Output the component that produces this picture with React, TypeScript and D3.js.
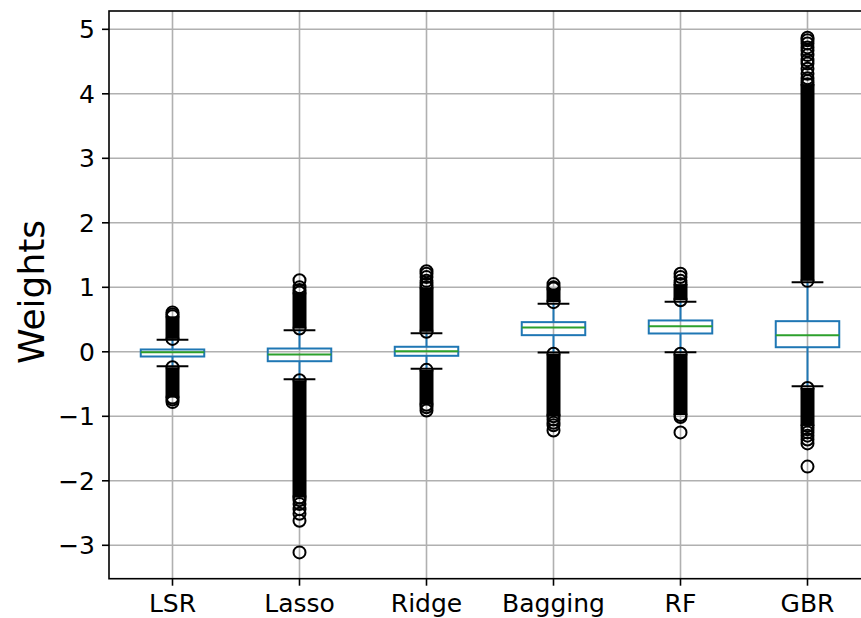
import React from 'react'
import * as d3 from 'd3'

// models on the x axis
const models = ['LSR', 'Lasso', 'Ridge', 'Bagging', 'RF', 'GBR']

// box stats: [lowWhisker, q1, median, q3, highWhisker]
const lsrBox = [-0.223, -0.073, -0.006, 0.036, 0.186]
const lassoBox = [-0.425, -0.146, -0.042, 0.051, 0.335]
const ridgeBox = [-0.264, -0.062, 0.009, 0.078, 0.289]
const baggingBox = [-0.01, 0.258, 0.377, 0.46, 0.745]
const rfBox = [-0.006, 0.284, 0.397, 0.486, 0.776]
const gbrBox = [-0.534, 0.071, 0.258, 0.475, 1.08]

// stretches where the outlier circles overlap into a solid column: [from, to]
const lsrDense = [[0.2, 0.55], [-0.24, -0.71]]
const lassoDense = [[0.36, 0.92], [-0.44, -2.26]]
const ridgeDense = [[0.31, 1.0], [-0.28, -0.82]]
const baggingDense = [[0.77, 0.98], [-0.03, -1.0]]
const rfDense = [[0.8, 1.05], [-0.03, -0.98]]
const gbrDense = [[1.1, 4.15], [-0.56, -1.15]]

// single outliers that can still be told apart
const lsrFliers = [0.2, 0.55, 0.58, 0.61, -0.24, -0.71, -0.74, -0.78]
const lassoFliers = [0.36, 0.92, 0.96, 1.0, 1.11, -0.44, -2.26, -2.3, -2.36, -2.44, -2.51, -2.62, -3.11]
const ridgeFliers = [0.31, 1.0, 1.05, 1.1, 1.16, 1.21, 1.25, -0.28, -0.82, -0.86, -0.91]
const baggingFliers = [0.77, 0.98, 1.0, 1.05, -0.03, -1.0, -1.05, -1.1, -1.14, -1.22]
const rfFliers = [0.8, 1.05, 1.1, 1.16, 1.21, -0.03, -0.98, -1.01, -1.25]
const gbrFliers = [1.1, 4.15, 4.2, 4.24, 4.31, 4.39, 4.47, 4.52, 4.6, 4.67, 4.72, 4.78, 4.83, 4.87,
  -0.56, -1.15, -1.2, -1.25, -1.3, -1.36, -1.42, -1.78]

const yTicks = [-3, -2, -1, 0, 1, 2, 3, 4, 5]

const boxes = [lsrBox, lassoBox, ridgeBox, baggingBox, rfBox, gbrBox]
const dense = [lsrDense, lassoDense, ridgeDense, baggingDense, rfDense, gbrDense]
const fliers = [lsrFliers, lassoFliers, ridgeFliers, baggingFliers, rfFliers, gbrFliers]

export default function App() {
  const left = 109
  const top = 11
  const bottom = 578.7
  const right = 871 // right spine falls just outside the picture

  const x = d3.scalePoint<string>().domain(models).range([left, right]).padding(0.5)
  const y = d3.scaleLinear().domain([-3.518, 5.284]).range([bottom, top])
  const step = x.step()
  const boxW = step * 0.5
  const capW = step * 0.25
  const r = 6
  const sw = 2
  const blue = '#1f77b4'
  const green = '#2ca02c'
  const font = 'DejaVu Sans, sans-serif'
  const fmt = (v: number) => (v < 0 ? '\u2212' + Math.abs(v) : String(v))

  return (
    <svg width={861} height={618} style={{ position: 'absolute', left: 0, top: 0 }} fontFamily={font}>
      <rect width={861} height={618} fill="white" />
      {/* grid */}
      <g stroke="#b0b0b0" strokeWidth={1.6}>
        {yTicks.map(t => (
          <line key={'gy' + t} x1={left} x2={right} y1={y(t)} y2={y(t)} />
        ))}
        {models.map(m => (
          <line key={'gx' + m} x1={x(m)} x2={x(m)} y1={top} y2={bottom} />
        ))}
      </g>

      {models.map((m, i) => {
        const cx = x(m) as number
        const [lo, q1, med, q3, hi] = boxes[i]
        return (
          <g key={m}>
            {/* whiskers */}
            <line x1={cx} x2={cx} y1={y(q3)} y2={y(hi)} stroke={blue} strokeWidth={sw} />
            <line x1={cx} x2={cx} y1={y(q1)} y2={y(lo)} stroke={blue} strokeWidth={sw} />
            <line x1={cx - capW / 2} x2={cx + capW / 2} y1={y(hi)} y2={y(hi)} stroke="black" strokeWidth={sw} />
            <line x1={cx - capW / 2} x2={cx + capW / 2} y1={y(lo)} y2={y(lo)} stroke="black" strokeWidth={sw} />
            {/* box */}
            <rect x={cx - boxW / 2} y={y(q3)} width={boxW} height={y(q1) - y(q3)} fill="none" stroke={blue} strokeWidth={sw} />
            <line x1={cx - boxW / 2} x2={cx + boxW / 2} y1={y(med)} y2={y(med)} stroke={green} strokeWidth={sw} />
            {/* outliers */}
            {dense[i].map(([a, b], j) => (
              <rect key={'d' + j} x={cx - r - sw / 2} width={2 * r + sw}
                y={Math.min(y(a), y(b))} height={Math.abs(y(a) - y(b))} fill="black" />
            ))}
            {fliers[i].map((v, j) => (
              <circle key={'f' + j} cx={cx} cy={y(v)} r={r} fill="none" stroke="black" strokeWidth={sw} />
            ))}
          </g>
        )
      })}

      {/* spines */}
      <rect x={left} y={top} width={right - left} height={bottom - top} fill="none" stroke="black" strokeWidth={1.6} />

      {/* y axis */}
      {yTicks.map(t => (
        <g key={'ty' + t}>
          <line x1={left - 7} x2={left} y1={y(t)} y2={y(t)} stroke="black" strokeWidth={1.6} />
          <text x={left - 14} y={y(t)} dy="0.36em" textAnchor="end" fontSize={25} fill="black">{fmt(t)}</text>
        </g>
      ))}
      {/* x axis */}
      {models.map(m => (
        <g key={'tx' + m}>
          <line x1={x(m)} x2={x(m)} y1={bottom} y2={bottom + 7} stroke="black" strokeWidth={1.6} />
          <text x={x(m)} y={bottom + 14} dy="0.76em" textAnchor="middle" fontSize={25} fill="black">{m}</text>
        </g>
      ))}
      <text transform={`translate(44, 292) rotate(-90)`} textAnchor="middle" fontSize={36} fill="black">Weights</text>
    </svg>
  )
}
